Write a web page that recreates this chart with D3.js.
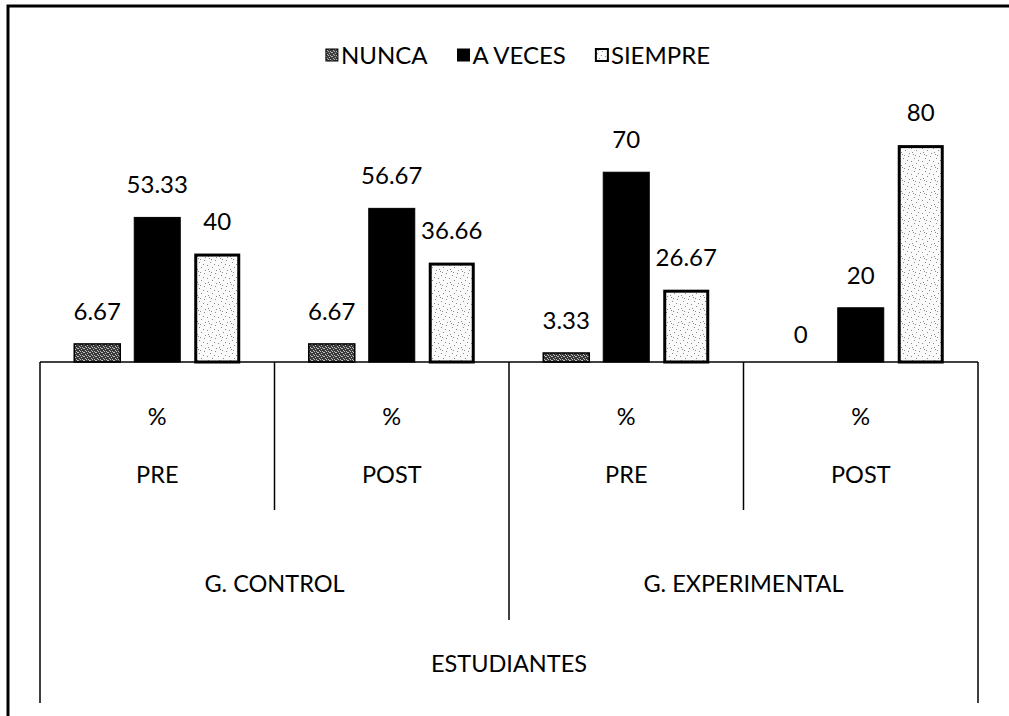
<!DOCTYPE html>
<html>
<head>
<meta charset="utf-8">
<script src="https://cdn.jsdelivr.net/npm/d3@7"></script>
<style>
  html, body { margin: 0; padding: 0; background: #fff; }
  text { font-family: Lato, "Open Sans", sans-serif; fill: #000; }
</style>
</head>
<body>
<svg id="chart" width="1009" height="716"></svg>
<script>
// ---- data ----
const seriesNames = ["NUNCA", "A VECES", "SIEMPRE"];
const periods = ["PRE", "POST", "PRE", "POST"];
const units = ["%", "%", "%", "%"];
const groups = ["G. CONTROL", "G. EXPERIMENTAL"];
const axisTitle = "ESTUDIANTES";
const nunca = [6.67, 6.67, 3.33, 0];
const aVeces = [53.33, 56.67, 70, 20];
const siempre = [40, 36.66, 26.67, 80];
const seriesValues = [nunca, aVeces, siempre];

// ---- layout ----
const W = 1009, H = 716;
const plotL = 40, plotR = 978, baseY = 362, plotTop = 118;
const svg = d3.select("#chart");
svg.append("rect").attr("width", W).attr("height", H).attr("fill", "#fff");

const defs = svg.append("defs");
// dark textured pattern for NUNCA
const pN = defs.append("pattern").attr("id", "pNunca").attr("patternUnits", "userSpaceOnUse")
  .attr("width", 6).attr("height", 4);
pN.append("rect").attr("width", 6).attr("height", 4).attr("fill", "#3a3a3a");
[[0,0],[3,1],[1,2],[4,3],[5,0],[2,3]].forEach(([x,y]) =>
  pN.append("rect").attr("x", x).attr("y", y).attr("width", 1).attr("height", 1).attr("fill", "#bdbdbd"));
// light dotted pattern for SIEMPRE
const pS = defs.append("pattern").attr("id", "pSiempre").attr("patternUnits", "userSpaceOnUse")
  .attr("width", 11).attr("height", 13);
pS.append("rect").attr("width", 11).attr("height", 13).attr("fill", "#fafafa");
[[1,2],[6,0],[9,5],[3,7],[7,10],[0,11],[5,4],[10,9],[2,12]].forEach(([x,y]) =>
  pS.append("rect").attr("x", x).attr("y", y).attr("width", 1).attr("height", 1).attr("fill", "#8a8a8a"));

const fills = ["url(#pNunca)", "#000", "url(#pSiempre)"];
const strokeW = [1.5, 1, 3];

// ---- scales ----
const catIdx = d3.range(periods.length);
const x0 = d3.scaleBand().domain(catIdx).range([plotL, plotR]).paddingInner(0).paddingOuter(0);
const innerW = 166;
const x1 = d3.scaleBand().domain(seriesNames).range([0, innerW]).paddingInner(0.233).paddingOuter(0);
const y = d3.scaleLinear().domain([0, 90]).range([baseY, plotTop]);

// ---- outer border ----
svg.append("path").attr("d", `M8,${H} L8,6 L${W},6`)
  .attr("fill", "none").attr("stroke", "#000").attr("stroke-width", 3);

// ---- bars ----
const data = [];
catIdx.forEach(ci => seriesNames.forEach((s, si) => data.push({ci, s, si, v: seriesValues[si][ci]})));
const offset = (x0.bandwidth() - innerW) / 2;

svg.append("g").selectAll("rect").data(data.filter(d => d.v > 0)).join("rect")
  .attr("x", d => x0(d.ci) + offset + x1(d.s) + (d.si === 2 ? 1.5 : 0))
  .attr("y", d => y(d.v) + (d.si === 2 ? 1.5 : 0))
  .attr("width", d => x1.bandwidth() - (d.si === 2 ? 3 : 0))
  .attr("height", d => y(0) - y(d.v) - (d.si === 2 ? 1.5 : 0))
  .attr("fill", d => fills[d.si])
  .attr("stroke", "#000")
  .attr("stroke-width", d => strokeW[d.si]);

// value labels
svg.append("g").selectAll("text").data(data).join("text")
  .attr("x", d => x0(d.ci) + offset + x1(d.s) + x1.bandwidth() / 2)
  .attr("y", d => y(d.v) - (d.v === 0 ? 19 : 24))
  .attr("text-anchor", "middle")
  .attr("font-size", 24)
  .text(d => d.v);

// ---- category axis ----
const ax = svg.append("g").attr("stroke", "#000").attr("fill", "none");
ax.append("line").attr("x1", plotL).attr("x2", plotR).attr("y1", baseY).attr("y2", baseY).attr("stroke-width", 1.5);
// outer verticals
[plotL, plotR].forEach(xx => ax.append("line").attr("x1", xx).attr("x2", xx).attr("y1", baseY).attr("y2", 703).attr("stroke-width", 1.5));
// period dividers
[1, 3].forEach(ci => ax.append("line").attr("x1", x0(ci)).attr("x2", x0(ci)).attr("y1", baseY).attr("y2", 510).attr("stroke-width", 1.5));
// group divider
ax.append("line").attr("x1", x0(2)).attr("x2", x0(2)).attr("y1", baseY).attr("y2", 620).attr("stroke-width", 1.5);

const lab = svg.append("g").attr("text-anchor", "middle").attr("font-size", 23.5);
catIdx.forEach(ci => {
  const cx = x0(ci) + x0.bandwidth() / 2;
  lab.append("text").attr("x", cx).attr("y", 425).text(units[ci]);
  lab.append("text").attr("x", cx).attr("y", 483).text(periods[ci]);
});
groups.forEach((g, gi) => {
  const cx = (x0(gi * 2) + x0(gi * 2 + 1) + x0.bandwidth()) / 2;
  lab.append("text").attr("x", cx).attr("y", 592).text(g);
});
lab.append("text").attr("x", (plotL + plotR) / 2).attr("y", 672).text(axisTitle);

// ---- legend ----
const leg = svg.append("g").attr("font-size", 24);
const items = seriesNames.map((s, i) => {
  const g = leg.append("g");
  g.append("rect").attr("x", 0).attr("y", -15).attr("width", 12).attr("height", 12)
    .attr("fill", fills[i]).attr("stroke", "#000").attr("stroke-width", i === 2 ? 2 : 1);
  const t = g.append("text").attr("x", 15).attr("y", 0).text(s);
  return {g, w: 15 + t.node().getComputedTextLength()};
});
const gap = 30;
const total = d3.sum(items, d => d.w) + gap * (items.length - 1);
let lx = 518 - total / 2;
items.forEach(it => { it.g.attr("transform", `translate(${lx},64)`); lx += it.w + gap; });
</script>
</body>
</html>
